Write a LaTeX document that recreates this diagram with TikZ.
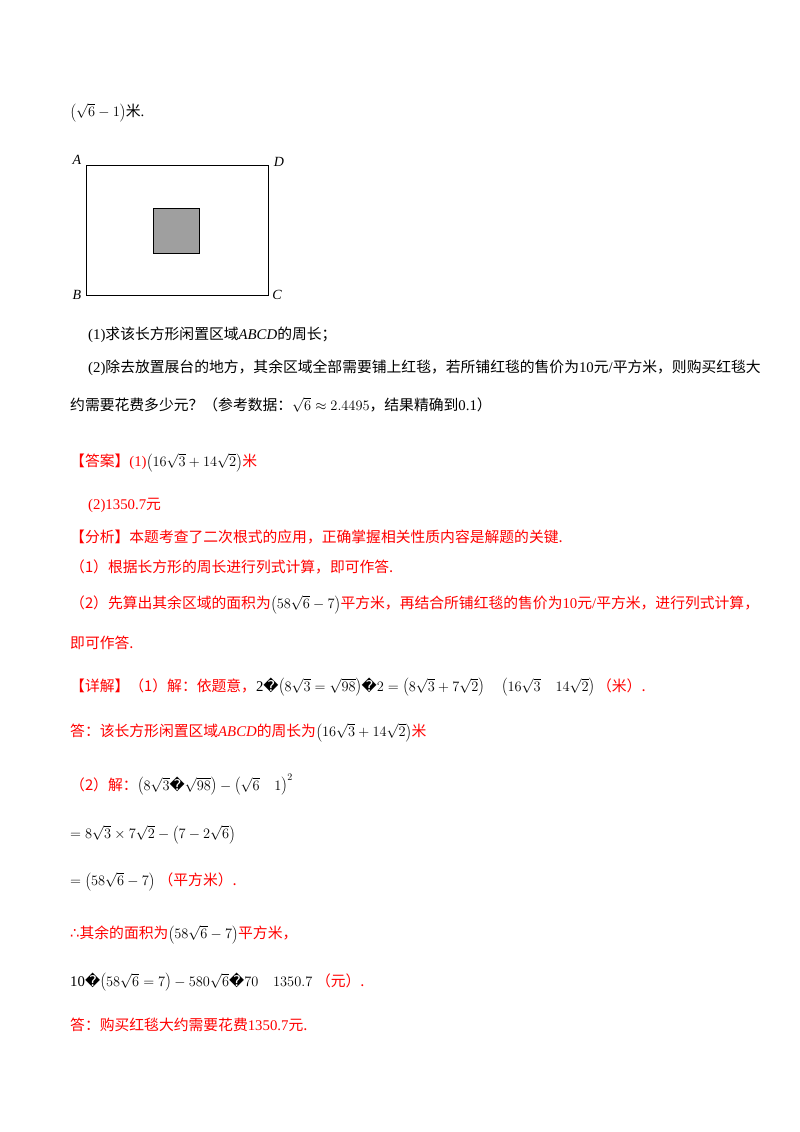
\documentclass[tikz,border=0pt]{standalone}
\usepackage{fontspec}
\setmainfont{Liberation Serif}
\newfontfamily\cjk{Noto Sans CJK SC}
\newfontfamily\djvfont{DejaVu Sans}
\newcommand\zh[1]{{\cjk #1}}
\newcommand\qq{{\djvfont\char"FFFD}}
\newcommand\bigp[1]{\left(\vrule height 12pt depth 5pt width 0pt #1\right)}
\begin{document}
\begin{tikzpicture}[x=1pt,y=-1pt,
  t/.style={anchor=west,inner sep=0pt,font=\fontsize{14.8}{17}\selectfont},
  r/.style={t,text=red},
  lab/.style={inner sep=0pt,font=\fontsize{14}{16}\selectfont\itshape}]
\useasboundingbox[fill=white] (0,0) rectangle (800,1132);
\node[t] (l1) at (70,113) {$\bigp{\sqrt{6}-1}$\zh{米}.};
\draw[line width=0.8pt] (86,165) rectangle (268,295);
\draw[fill=gray!75,line width=0.8pt] (153,208) rectangle (199,253);
\node[lab] (A) at (77,160) {A};
\node[lab] (D) at (279,162) {D};
\node[lab] (B) at (77,295) {B};
\node[lab] (C) at (277,295) {C};
\node[t] (q1) at (88,335) {(1)\zh{求该长方形闲置区域}\textit{ABCD}\zh{的周长；}};
\node[t] (q2) at (88,368) {(2)\zh{除去放置展台的地方，其余区域全部需要铺上红毯，若所铺红毯的售价为}10\zh{元}/\zh{平方米，则购买红毯大}};
\node[t] (q3) at (70,405) {\zh{约需要花费多少元？（参考数据：}$\sqrt{6}\approx2.4495$\zh{，结果精确到}0.1\zh{）}};
\node[r] (a1) at (70,463) {\zh{【答案】}(1)\textcolor{black}{$\bigp{16\sqrt{3}+14\sqrt{2}}$}\zh{米}};
\node[r] (a2) at (88,505) {(2)1350.7\zh{元}};
\node[r] (f1) at (70,537) {\zh{【分析】本题考查了二次根式的应用，正确掌握相关性质内容是解题的关键.}};
\node[r] (f2) at (70,567) {\zh{（1）根据长方形的周长进行列式计算，即可作答.}};
\node[r] (f3) at (70,605) {\zh{（2）先算出其余区域的面积为}\textcolor{black}{$\bigp{58\sqrt{6}-7}$}\zh{平方米，再结合所铺红毯的售价为}10\zh{元}/\zh{平方米，进行列式计算，}};
\node[r] (f4) at (70,643) {\zh{即可作答.}};
\node[r] (d1) at (70,687) {\zh{【详解】（1）解：依题意，}\textcolor{black}{2\qq$\bigp{8\sqrt{3}=\sqrt{98}}$\qq$2=\bigp{8\sqrt{3}+7\sqrt{2}}\quad\bigp{16\sqrt{3}\quad14\sqrt{2}}$}\,\zh{（米）.}};
\node[r] (d2) at (70,733) {\zh{答：该长方形闲置区域}\textit{ABCD}\zh{的周长为}\textcolor{black}{$\bigp{16\sqrt{3}+14\sqrt{2}}$}\zh{米}};
\node[r] (d3) at (70,785) {\zh{（2）解：}\textcolor{black}{$\bigp{8\sqrt{3}\hbox{\qq}\sqrt{98}}-\bigp{\sqrt{6}\quad1}^2$}};
\node[t] (d4) at (70,835) {$=8\sqrt{3}\times7\sqrt{2}-\bigp{7-2\sqrt{6}}$};
\node[t] (d5) at (70,882) {$=\bigp{58\sqrt{6}-7}$ \textcolor{red}{\zh{（平方米）.}}};
\node[r] (d6) at (70,935) {{\djvfont ∴}\zh{其余的面积为}\textcolor{black}{$\bigp{58\sqrt{6}-7}$}\zh{平方米，}};
\node[t] (d7) at (70,982) {10\qq$\bigp{58\sqrt{6}=7}-580\sqrt{6}$\qq$70\quad1350.7$ \textcolor{red}{\zh{（元）.}}};
\node[r] (d8) at (70,1025) {\zh{答：购买红毯大约需要花费}1350.7\zh{元.}};
\end{tikzpicture}
\end{document}
